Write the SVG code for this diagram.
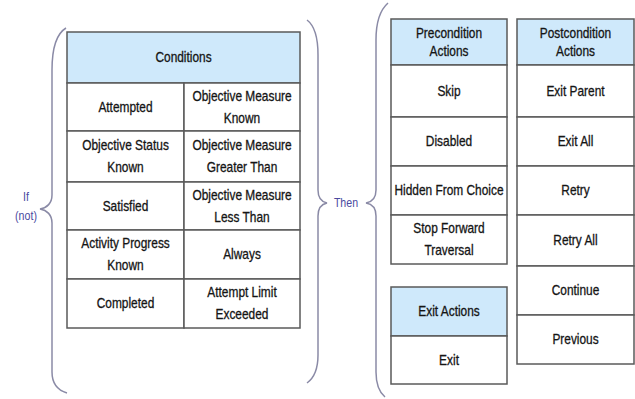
<svg xmlns="http://www.w3.org/2000/svg" width="635" height="399" viewBox="0 0 635 399">
<style>
.cell{fill:#ffffff;stroke:#5a5a5a;stroke-width:1.5}
.hdr{fill:#cfe9fb;stroke:#5a5a5a;stroke-width:1.5}
text{transform-box:fill-box;transform-origin:center;transform:scaleX(0.85)}
.t{font-family:"Liberation Sans",Arial,sans-serif;font-size:14px;fill:#151515;stroke:#151515;stroke-width:0.3;text-anchor:middle}
.brace{fill:none;stroke:#8a8aa6;stroke-width:1.5}
.lbl{font-family:"Liberation Sans",Arial,sans-serif;font-size:12.5px;fill:#4a4aa0;text-anchor:middle}
</style>
<rect width="635" height="399" fill="#ffffff"/>
<g id="connectors">
<path class="brace" d="M66,28 C56,34 52,50 52,70 L52,195 C52,203 47,208 40,209 C47,210 52,215 52,223 L52,372 C52,384 57,390 67,393"/>
<path class="brace" d="M307,20 C315,26 318,38 318,55 L318,190 C318,198 322,202 327,203 C322,204 318,208 318,216 L318,355 C318,370 314,378 307,383"/>
<path class="brace" d="M388,3 C380,10 376,22 376,40 L376,190 C376,198 372,202 366,203 C372,204 376,208 376,216 L376,372 C376,384 379,392 385,397"/>
</g>
<g id="if-label">
<text class="lbl" x="26" y="201">If</text>
<text class="lbl" x="26" y="220">(not)</text>
</g>
<g id="then-label">
<text class="lbl" x="346" y="207" font-size="12">Then</text>
</g>
<g id="conditions">
<rect class="hdr" x="67" y="32" width="233" height="51"/>
<rect class="cell" x="67" y="83" width="117" height="48"/>
<rect class="cell" x="184" y="83" width="116" height="48"/>
<rect class="cell" x="67" y="131" width="117" height="51"/>
<rect class="cell" x="184" y="131" width="116" height="51"/>
<rect class="cell" x="67" y="182" width="117" height="48"/>
<rect class="cell" x="184" y="182" width="116" height="48"/>
<rect class="cell" x="67" y="230" width="117" height="49"/>
<rect class="cell" x="184" y="230" width="116" height="49"/>
<rect class="cell" x="67" y="279" width="117" height="49"/>
<rect class="cell" x="184" y="279" width="116" height="49"/>
<text class="t" x="183.5" y="62">Conditions</text>
<text class="t" x="125.5" y="112">Attempted</text>
<text class="t" x="242" y="101">Objective Measure</text>
<text class="t" x="242" y="123">Known</text>
<text class="t" x="125.5" y="150.5">Objective Status</text>
<text class="t" x="125.5" y="172.5">Known</text>
<text class="t" x="242" y="150.5">Objective Measure</text>
<text class="t" x="242" y="172.5">Greater Than</text>
<text class="t" x="125.5" y="211">Satisfied</text>
<text class="t" x="242" y="200">Objective Measure</text>
<text class="t" x="242" y="222">Less Than</text>
<text class="t" x="125.5" y="248.5">Activity Progress</text>
<text class="t" x="125.5" y="270.5">Known</text>
<text class="t" x="242" y="259.5">Always</text>
<text class="t" x="125.5" y="308.5">Completed</text>
<text class="t" x="242" y="297.5">Attempt Limit</text>
<text class="t" x="242" y="319.5">Exceeded</text>
</g>
<g id="precondition-actions">
<rect class="hdr" x="391" y="19" width="116" height="46"/>
<rect class="cell" x="391" y="65" width="116" height="52"/>
<rect class="cell" x="391" y="117" width="116" height="49"/>
<rect class="cell" x="391" y="166" width="116" height="49"/>
<rect class="cell" x="391" y="215" width="116" height="49"/>
<text class="t" x="449" y="38">Precondition</text>
<text class="t" x="449" y="56">Actions</text>
<text class="t" x="449" y="96">Skip</text>
<text class="t" x="449" y="146.5">Disabled</text>
<text class="t" x="449" y="195.5">Hidden From Choice</text>
<text class="t" x="449" y="233.5">Stop Forward</text>
<text class="t" x="449" y="255.5">Traversal</text>
</g>
<g id="exit-actions">
<rect class="hdr" x="391" y="287" width="116" height="49"/>
<rect class="cell" x="391" y="336" width="116" height="48"/>
<text class="t" x="449" y="316.5">Exit Actions</text>
<text class="t" x="449" y="365">Exit</text>
</g>
<g id="postcondition-actions">
<rect class="hdr" x="517" y="19" width="117" height="46"/>
<rect class="cell" x="517" y="65" width="117" height="52"/>
<rect class="cell" x="517" y="117" width="117" height="49"/>
<rect class="cell" x="517" y="166" width="117" height="49"/>
<rect class="cell" x="517" y="215" width="117" height="51"/>
<rect class="cell" x="517" y="266" width="117" height="49"/>
<rect class="cell" x="517" y="315" width="117" height="49"/>
<text class="t" x="575.5" y="38">Postcondition</text>
<text class="t" x="575.5" y="56">Actions</text>
<text class="t" x="575.5" y="96">Exit Parent</text>
<text class="t" x="575.5" y="146.5">Exit All</text>
<text class="t" x="575.5" y="195.5">Retry</text>
<text class="t" x="575.5" y="245.5">Retry All</text>
<text class="t" x="575.5" y="295.5">Continue</text>
<text class="t" x="575.5" y="344.5">Previous</text>
</g>
</svg>
